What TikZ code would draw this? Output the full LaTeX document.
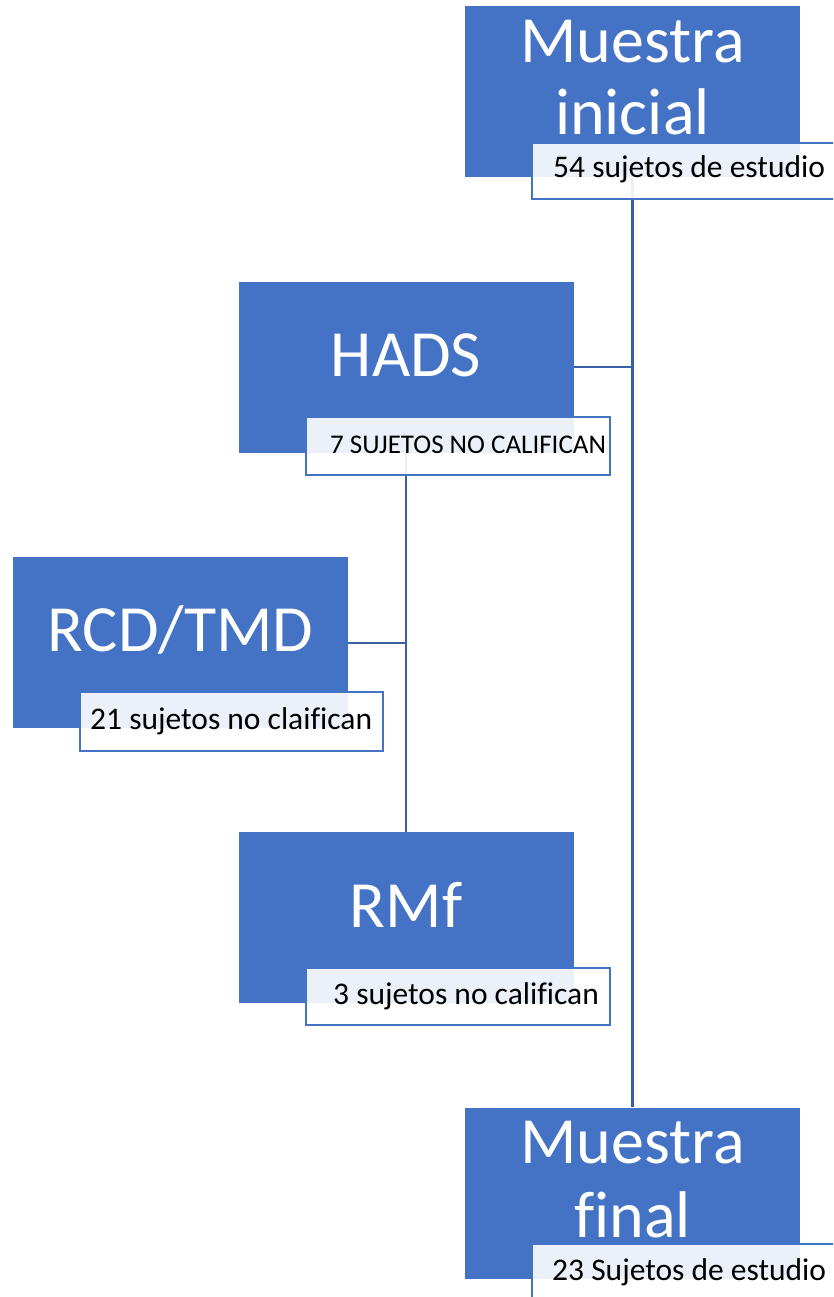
\documentclass[tikz,border=0pt]{standalone}
\usepackage{fontspec}
\setmainfont{Carlito}[Ligatures=NoCommon]
\definecolor{boxblue}{RGB}{68,114,196}
\definecolor{linkblue}{RGB}{60,94,164}
\tikzset{
  mainbox/.style={rectangle, fill=boxblue, draw=none, minimum width=335pt, minimum height=171pt, inner sep=0pt},
  bigtxt/.style={text=white, font=\fontsize{66}{74}\selectfont, inner sep=0pt, anchor=base},
  tagbox/.style={rectangle, fill=white, fill opacity=0.9, draw=boxblue, line width=1.6pt, inner sep=0pt, anchor=north west},
  tagtxt/.style={text=black, font=\fontsize{31.5}{36}\selectfont, inner sep=0pt, anchor=base west},
  link/.style={draw=linkblue, line width=2.2pt}
}
\begin{document}
\begin{tikzpicture}[x=1pt, y=-1pt]
\useasboundingbox (0,0) rectangle (833,1297);
\clip (0,0) rectangle (833,1297);

% main boxes
\node[mainbox] (ini)  at (632.5,92)  {};
\node[mainbox] (hads) at (406,367.5) {};
\node[mainbox] (rcd)  at (180.5,642.5) {};
\node[mainbox] (rmf)  at (406,917.5) {};
\node[mainbox] (fin)  at (632.5,1193) {};

% connectors
\coordinate (trunkH) at (632.5,367);
\coordinate (branchR) at (406,643);
\draw[link] (ini.south) -- (fin.north);
\draw[link] (hads.east |- trunkH) -- (trunkH);
\draw[link] (hads.south) -- (rmf.north);
\draw[link] (rcd.east |- branchR) -- (branchR);

% box titles
\node[bigtxt] (iniA) at (632.5,63)  {Muestra};
\node[bigtxt] (iniB) at (632.5,135) {inicial};
\node[bigtxt] (hadsT) at (406,376)  {HADS};
\node[bigtxt] (rcdT) at (180.5,651) {RCD/TMD};
\node[bigtxt] (rmfT) at (406,927)   {RMf};
\node[bigtxt] (finA) at (632.5,1163) {Muestra};
\node[bigtxt] (finB) at (632.5,1237) {final};

% sub-labels
\node[tagbox, minimum width=320pt, minimum height=56pt] (iniL) at (531,142) {};
\node[tagtxt] (iniLT) at (553,178) {54 sujetos de estudio};
\node[tagbox, minimum width=304pt, minimum height=58pt] (hadsL) at (305,416) {};
\node[tagtxt, font=\fontsize{27}{32}\selectfont] (hadsLT) at (330,453) {7 SUJETOS NO CALIFICAN};
\node[tagbox, minimum width=303pt, minimum height=59pt] (rcdL) at (79,691) {};
\node[tagtxt] (rcdLT) at (90,729) {21 sujetos no claifican};
\node[tagbox, minimum width=304pt, minimum height=57pt] (rmfL) at (305,967) {};
\node[tagtxt] (rmfLT) at (333,1004) {3 sujetos no califican};
\node[tagbox, minimum width=320pt, minimum height=70pt] (finL) at (531,1243) {};
\node[tagtxt] (finLT) at (552,1280) {23 Sujetos de estudio};
\end{tikzpicture}
\end{document}
